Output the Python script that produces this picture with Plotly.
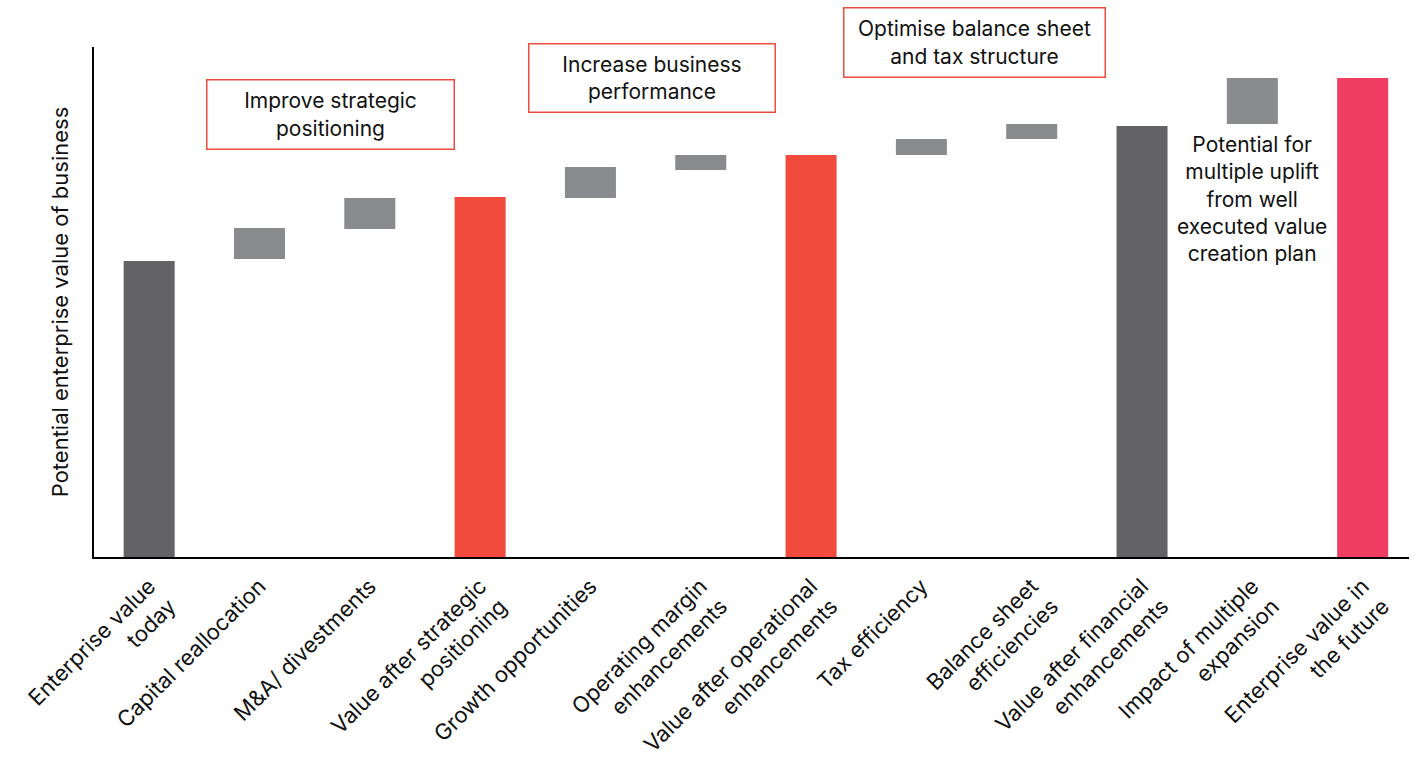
import plotly.graph_objects as go

categories = [
    "Enterprise value<br>today",
    "Capital reallocation",
    "M&A/ divestments",
    "Value after strategic<br>positioning",
    "Growth opportunities",
    "Operating margin<br>enhancements",
    "Value after operational<br>enhancements",
    "Tax efficiency",
    "Balance sheet<br>efficiencies",
    "Value after financial<br>enhancements",
    "Impact of multiple<br>expansion",
    "Enterprise value in<br>the future",
]
bar_bottom = [0, 298, 328, 0, 359, 387, 0, 402, 418, 0, 433, 0]
bar_top = [296, 329, 359, 360, 390, 402, 402, 418, 433, 431, 479, 479]
bar_colors = ["#636366", "#8a8b8e", "#8a8b8e", "#f04b3d", "#8a8b8e", "#8a8b8e",
              "#f04b3d", "#8a8b8e", "#8a8b8e", "#636366", "#8a8b8e", "#ef3e62"]

heights = [t - b for t, b in zip(bar_top, bar_bottom)]
FONT = "Inter, Liberation Sans, Arial, sans-serif"

fig = go.Figure(go.Bar(
    x=list(range(len(categories))),
    y=heights,
    base=bar_bottom,
    marker=dict(color=bar_colors, line=dict(width=0)),
    width=0.4625,
    hoverinfo="skip",
))

box_style = dict(xref="paper", yref="paper", showarrow=False,
                 xanchor="center", yanchor="middle",
                 bordercolor="#f04b3d", borderwidth=1.5, borderpad=0,
                 bgcolor="white", font=dict(size=21, color="#111111", family=FONT))
fig.add_annotation(text="Improve strategic<br>positioning", x=0.1802, y=0.8686,
                   width=246, height=68, **box_style)
fig.add_annotation(text="Increase business<br>performance", x=0.4243, y=0.939,
                   width=245, height=67, **box_style)
fig.add_annotation(text="Optimise balance sheet<br>and tax structure", x=0.6696, y=1.0088,
                   width=260, height=68, **box_style)
fig.add_annotation(text="Potential for<br>multiple uplift<br>from well<br>executed value<br>creation plan",
                   x=10, xref="x", y=0.702, yref="paper", showarrow=False,
                   xanchor="center", yanchor="middle",
                   font=dict(size=21, color="#111111", family=FONT))

fig.update_layout(
    width=1417, height=758,
    margin=dict(l=94, r=8, t=47, b=201),
    plot_bgcolor="white", paper_bgcolor="white",
    showlegend=False,
    font=dict(family=FONT, color="#111111", size=20),
    xaxis=dict(
        tickmode="array", tickvals=list(range(len(categories))), ticktext=categories,
        tickangle=-45, range=[-0.5, 11.42], showgrid=False, zeroline=False,
        showline=True, linecolor="black", linewidth=1.5, ticks="",
        ticklabelstandoff=6, automargin=False,
        tickfont=dict(size=22, family=FONT, color="#111111"),
    ),
    yaxis=dict(
        range=[0, 510], showgrid=False, zeroline=False, showticklabels=False,
        showline=True, linecolor="black", linewidth=1.5, ticks="", automargin=False,
        title=dict(text="Potential enterprise value of business", standoff=18,
                   font=dict(size=22, family=FONT, color="#111111")),
    ),
)

fig.write_html("out.html")
